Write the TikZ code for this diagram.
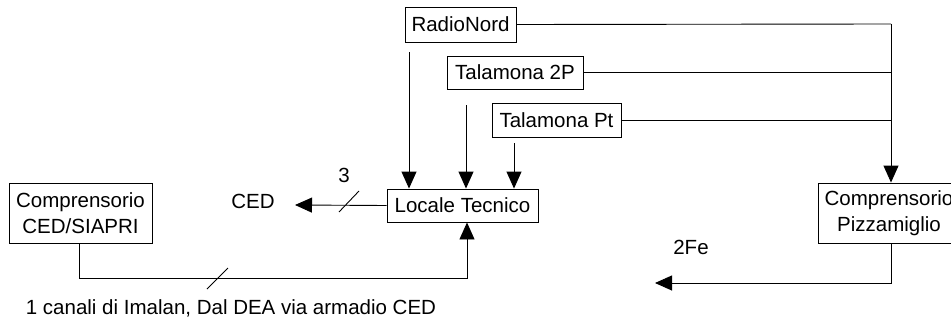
\documentclass[tikz,border=0pt]{standalone}
\usepackage{fontspec}
\setmainfont{Liberation Sans}
\usetikzlibrary{arrows.meta}
\begin{document}
\begin{tikzpicture}[x=1pt,y=-1pt,
  box/.style={draw,line width=0.9pt,inner sep=0pt,align=center,font=\fontsize{20.5}{26}\selectfont},
  lbl/.style={inner sep=0pt,font=\fontsize{20.5}{26}\selectfont},
  conn/.style={line width=0.9pt},
  arr/.style={conn,-{Triangle[length=17pt,width=15pt]}}]
\useasboundingbox (0,0) rectangle (951,324);
\fill[white] (0,0) rectangle (951,324);
% boxes
\node[box,minimum width=111pt,minimum height=35pt] (rn) at (460.5,24.5) {RadioNord};
\node[box,minimum width=136pt,minimum height=33pt] (t2p) at (515,72.5) {Talamona 2P};
\node[box,minimum width=129pt,minimum height=34pt] (tpt) at (556.5,120) {Talamona Pt};
\node[box,minimum width=151pt,minimum height=33pt] (lt) at (462.5,205.5) {Locale Tecnico};
\node[box,minimum width=143pt,minimum height=60pt] (cs) at (80.5,213) {Comprensorio\\CED/SIAPRI};
\node[box,minimum width=142pt,minimum height=60pt] (cp) at (889,213) {Comprensorio\\Pizzamiglio};
% labels
\node[lbl] (ced) at (253,201) {CED};
\node[lbl] (three) at (344,175) {3};
\node[lbl] (fe) at (691,247) {2Fe};
\node[lbl] (canali) at (231,308) {1 canali di Imalan, Dal DEA via armadio CED};
% coordinates
\coordinate (rnS) at (409,52);
\coordinate (t2pS) at (466,105);
\coordinate (tptS) at (514,143);
\coordinate (cedE) at (295,205);
\coordinate (bus) at (891,24);
\coordinate (feE) at (655,283);
% arrows into Locale Tecnico
\draw[arr] (rnS) -- (rnS |- lt.north);
\draw[arr] (t2pS) -- (t2pS |- lt.north);
\draw[arr] (tptS) -- (tptS |- lt.north);
% to CED
\draw[arr] (lt.west) -- (cedE);
\draw[conn] (339,212) -- (359,191);
% from CED/SIAPRI
\draw[arr] (cs.south -| 79,0) -- (79,278) -- (467,278) -- (lt.south -| 467,0);
\draw[conn] (207,289) -- (228,268);
% right bus
\draw[conn] (rn.east) -- (bus);
\draw[conn] (t2p.east) -- (t2p.east -| bus);
\draw[conn] (tpt.east) -- (tpt.east -| bus);
\draw[arr] (bus) -- (bus |- cp.north);
% from Pizzamiglio
\draw[arr] (cp.south -| bus) -- (891,283) -- (feE);
\end{tikzpicture}
\end{document}
